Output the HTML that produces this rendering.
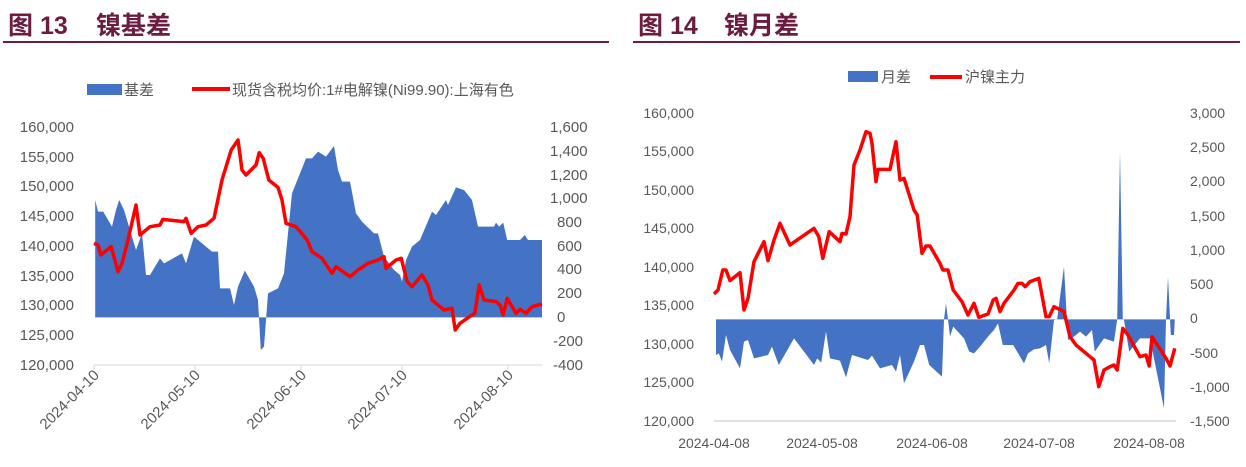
<!DOCTYPE html>
<html><head><meta charset="utf-8"><style>
body{margin:0;background:#fff;width:1246px;height:462px;overflow:hidden;font-family:"Liberation Sans","Noto Sans CJK SC",sans-serif}
svg text{font-family:"Liberation Sans","Noto Sans CJK SC",sans-serif}
</style></head><body>
<svg width="1246" height="462" viewBox="0 0 1246 462" xmlns="http://www.w3.org/2000/svg">
<text x="8" y="34" font-size="25" font-weight="bold" fill="#6b1c3f">图 13</text>
<text x="96" y="34" font-size="25" font-weight="bold" fill="#6b1c3f">镍基差</text>
<rect x="3" y="41" width="606" height="2" fill="#6b1c3f"/>
<text x="638" y="34" font-size="25" font-weight="bold" fill="#6b1c3f">图 14</text>
<text x="724" y="34" font-size="25" font-weight="bold" fill="#6b1c3f">镍月差</text>
<rect x="633" y="41" width="607" height="2" fill="#6b1c3f"/>

<rect x="87" y="84" width="35" height="11" fill="#4472c4"/>
<text x="124" y="95" font-size="15" fill="#595959">基差</text>
<line x1="192" y1="89" x2="230" y2="89" stroke="#f00" stroke-width="4"/>
<text x="232" y="95" font-size="15" fill="#595959">现货含税均价:1#电解镍(Ni99.90):上海有色</text>

<g font-size="15" fill="#595959" text-anchor="end">
<text x="74" y="132">160,000</text><text x="74" y="162">155,000</text><text x="74" y="191">150,000</text><text x="74" y="221">145,000</text><text x="74" y="251">140,000</text><text x="74" y="281">135,000</text><text x="74" y="310">130,000</text><text x="74" y="340">125,000</text><text x="74" y="370">120,000</text>
</g>
<g font-size="15" fill="#595959">
<text x="550" y="132">1,600</text><text x="550" y="156">1,400</text><text x="550" y="180">1,200</text><text x="550" y="203">1,000</text><text x="557" y="227">800</text><text x="557" y="251">600</text><text x="557" y="274">400</text><text x="557" y="298">200</text><text x="557" y="322">0</text><text x="553" y="346">-200</text><text x="553" y="370">-400</text>
</g>
<g transform="translate(0,100) scale(0.4,0.33333)">
<polygon fill="#4472c4" points="238,652 238,300 245,335 258,335 280,380 290,330 298,300 310,330 340,450 355,400 365,525 375,525 400,475 410,490 455,460 465,490 485,410 515,440 530,455 545,455 550,565 575,565 585,615 595,560 612,512 635,560 645,600 652,750 660,740 670,580 695,565 710,520 730,280 765,175 780,175 795,155 815,170 835,138 845,210 855,245 875,245 890,340 905,365 935,400 945,400 960,470 985,510 1000,525 1005,545 1015,480 1030,440 1050,420 1080,335 1090,345 1115,300 1120,315 1140,262 1160,270 1180,300 1195,380 1235,380 1240,368 1248,380 1258,368 1268,420 1300,420 1312,405 1320,420 1355,420 1355,652"/>
<polyline fill="none" stroke="#f00" stroke-width="3.5" vector-effect="non-scaling-stroke" stroke-linejoin="round" points="235,430 245,435 252,465 278,440 295,515 305,490 320,420 340,315 350,405 375,380 400,375 407,358 460,365 465,355 478,400 495,380 515,375 535,355 555,240 578,150 595,120 605,210 615,225 640,195 648,158 658,175 672,240 695,262 705,300 715,370 740,380 768,420 780,455 805,475 830,520 840,500 875,530 895,510 920,490 945,480 960,470 965,505 990,480 1003,475 1018,545 1030,560 1055,525 1070,555 1080,600 1110,630 1130,625 1138,690 1150,670 1180,645 1187,640 1198,555 1210,600 1240,605 1250,615 1258,645 1268,595 1290,640 1300,628 1315,640 1330,620 1355,612"/>
</g>
<line x1="94" y1="365" x2="542" y2="365" stroke="#d9d9d9" stroke-width="1"/>
<g stroke="#d9d9d9"><line x1="94" y1="365" x2="94" y2="370"/><line x1="195" y1="365" x2="195" y2="370"/><line x1="301" y1="365" x2="301" y2="370"/><line x1="402" y1="365" x2="402" y2="370"/><line x1="508" y1="365" x2="508" y2="370"/></g>
<g font-size="15" fill="#595959" text-anchor="end">
<text transform="translate(100,376) rotate(-45)">2024-04-10</text>
<text transform="translate(201,376) rotate(-45)">2024-05-10</text>
<text transform="translate(307,376) rotate(-45)">2024-06-10</text>
<text transform="translate(408,376) rotate(-45)">2024-07-10</text>
<text transform="translate(514,376) rotate(-45)">2024-08-10</text>
</g>

<rect x="848" y="71" width="30" height="11" fill="#4472c4"/>
<text x="881" y="82" font-size="15" fill="#595959">月差</text>
<line x1="930" y1="77" x2="962" y2="77" stroke="#f00" stroke-width="4"/>
<text x="965" y="82" font-size="15" fill="#595959">沪镍主力</text>
<g font-size="14" fill="#595959" text-anchor="end">
<text x="694" y="118">160,000</text><text x="694" y="156">155,000</text><text x="694" y="195">150,000</text><text x="694" y="233">145,000</text><text x="694" y="272">140,000</text><text x="694" y="310">135,000</text><text x="694" y="349">130,000</text><text x="694" y="387">125,000</text><text x="694" y="426">120,000</text>
</g>
<g font-size="14" fill="#595959">
<text x="1190" y="118">3,000</text><text x="1190" y="152">2,500</text><text x="1190" y="186">2,000</text><text x="1190" y="221">1,500</text><text x="1190" y="255">1,000</text><text x="1190" y="289">500</text><text x="1190" y="323">0</text><text x="1190" y="358">-500</text><text x="1190" y="392">-1,000</text><text x="1190" y="426">-1,500</text>
</g>
<g transform="translate(630,90) scale(0.4,0.33333)">
<polygon fill="#4472c4" points="215,688 215,795 222,790 230,815 240,735 250,780 275,835 285,755 295,750 310,805 345,795 355,770 372,825 410,745 460,825 468,805 478,818 490,725 500,805 525,812 540,862 555,795 595,810 605,797 625,835 655,825 665,845 675,795 685,880 710,815 725,765 735,765 748,825 780,860 785,688 790,640 795,688 800,740 808,710 835,745 848,785 860,790 875,770 895,740 910,720 920,700 932,765 958,765 985,820 995,790 1010,778 1025,775 1040,765 1048,820 1060,690 1068,687 1085,530 1095,750 1110,740 1125,725 1140,740 1155,720 1162,785 1185,745 1210,755 1218,688 1225,185 1232,688 1235,690 1248,785 1275,745 1300,745 1335,955 1340,688 1345,560 1352,735 1360,735 1362,688"/>
<polyline fill="none" stroke="#f00" stroke-width="3.5" vector-effect="non-scaling-stroke" stroke-linejoin="round" points="210,612 220,600 232,540 240,540 250,572 275,548 285,660 295,625 310,515 335,455 345,512 360,450 375,400 400,465 460,415 472,440 482,505 498,425 525,455 530,430 540,432 550,380 560,225 575,180 590,125 600,130 605,160 615,275 620,238 650,238 665,155 675,270 685,265 710,360 718,375 730,490 740,468 750,468 775,520 782,540 795,540 808,600 830,635 845,675 860,640 872,682 895,672 908,630 915,625 925,665 935,640 960,600 970,580 980,580 988,590 1000,575 1022,565 1040,680 1048,680 1060,650 1085,665 1100,740 1115,765 1150,800 1160,810 1172,890 1185,840 1200,830 1210,825 1218,840 1232,715 1245,735 1275,800 1290,795 1298,828 1305,740 1340,805 1350,828 1362,775"/>
</g>
<line x1="714" y1="421" x2="1176" y2="421" stroke="#d9d9d9" stroke-width="1.5"/>
<g font-size="14" fill="#595959" text-anchor="middle">
<text x="714" y="448">2024-04-08</text><text x="822" y="448">2024-05-08</text><text x="932" y="448">2024-06-08</text><text x="1039" y="448">2024-07-08</text><text x="1149" y="448">2024-08-08</text>
</g>
</svg>
</body></html>
